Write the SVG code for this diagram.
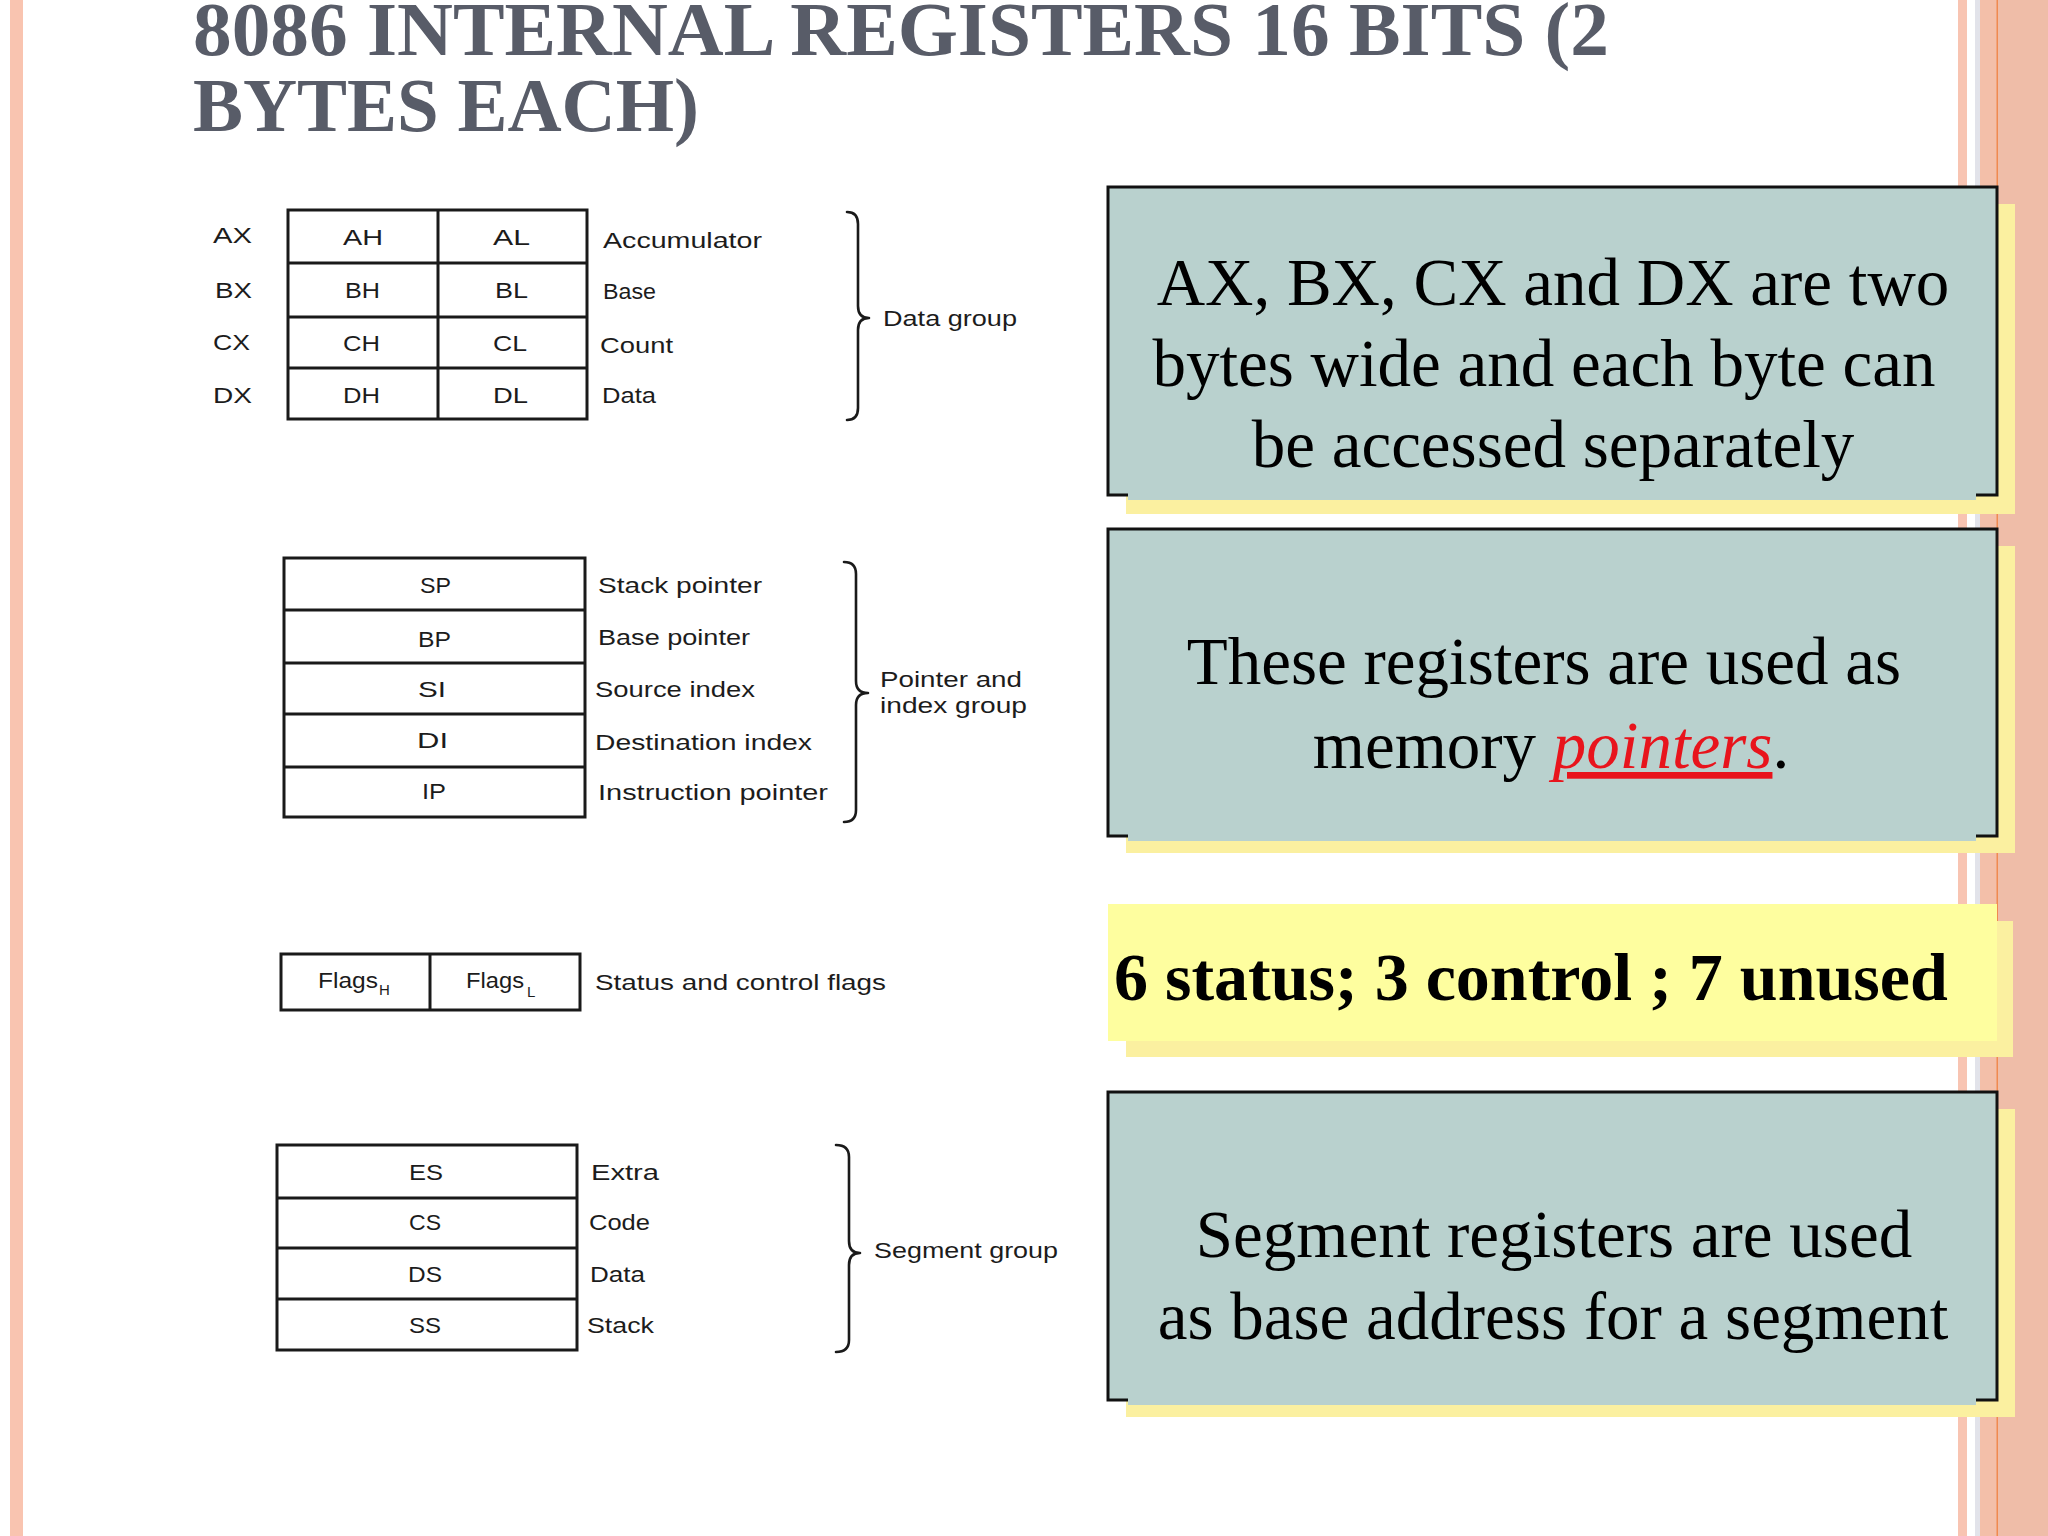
<svg xmlns="http://www.w3.org/2000/svg" width="2048" height="1536" viewBox="0 0 2048 1536">
<style>
.t{font-family:"Liberation Sans",Arial,sans-serif;font-size:22px;fill:#1c1c1c}
.sub{font-family:"Liberation Sans",Arial,sans-serif;font-size:15px;fill:#1c1c1c}
.ln{fill:none;stroke:#1a1a1a;stroke-width:3}
.br{fill:none;stroke:#1a1a1a;stroke-width:2.6;stroke-linecap:round;stroke-linejoin:round}
.title{font-family:"Liberation Serif","Times New Roman",serif;font-weight:bold;font-size:76px;fill:#585c68}
.bt{font-family:"Liberation Serif","Times New Roman",serif;font-size:67px;fill:#000;text-anchor:middle}
.teal{fill:#b9d1ce}
.shadow{fill:#fbf0a0}
.bord{fill:none;stroke:#111;stroke-width:3}
</style>
<rect width="2048" height="1536" fill="#fff"/>
<g id="frame">
<rect x="10" y="0" width="13" height="1536" fill="#f9c4b0"/>
<rect x="1958" y="0" width="9" height="1536" fill="#f8c4b2"/>
<rect x="1975" y="0" width="5" height="1536" fill="#e2e3ea"/>
<rect x="1980" y="0" width="17" height="1536" fill="#f3bfa9"/>
<rect x="1997" y="0" width="51" height="1536" fill="#efbda8"/>
<rect x="1996.5" y="0" width="1.5" height="1536" fill="#f08a50"/>
</g>
<g id="title">
<text class="title" x="193" y="55" textLength="1416" lengthAdjust="spacingAndGlyphs">8086 INTERNAL REGISTERS 16 BITS (2</text>
<text class="title" x="193" y="131" textLength="506" lengthAdjust="spacingAndGlyphs">BYTES EACH)</text>
</g>
<g id="data-group">
<rect class="ln" x="288" y="210" width="299" height="209"/>
<path class="ln" d="M288,263H587M288,317H587M288,368H587M438,210V419"/>
<text class="t" x="213" y="243" textLength="39" lengthAdjust="spacingAndGlyphs">AX</text>
<text class="t" x="215" y="298" textLength="37" lengthAdjust="spacingAndGlyphs">BX</text>
<text class="t" x="213" y="350" textLength="37" lengthAdjust="spacingAndGlyphs">CX</text>
<text class="t" x="213" y="403" textLength="39" lengthAdjust="spacingAndGlyphs">DX</text>
<text class="t" x="343" y="245" textLength="40" lengthAdjust="spacingAndGlyphs">AH</text>
<text class="t" x="493" y="245" textLength="37" lengthAdjust="spacingAndGlyphs">AL</text>
<text class="t" x="345" y="298" textLength="35" lengthAdjust="spacingAndGlyphs">BH</text>
<text class="t" x="495" y="298" textLength="33" lengthAdjust="spacingAndGlyphs">BL</text>
<text class="t" x="343" y="351" textLength="37" lengthAdjust="spacingAndGlyphs">CH</text>
<text class="t" x="493" y="351" textLength="34" lengthAdjust="spacingAndGlyphs">CL</text>
<text class="t" x="343" y="403" textLength="37" lengthAdjust="spacingAndGlyphs">DH</text>
<text class="t" x="493" y="403" textLength="35" lengthAdjust="spacingAndGlyphs">DL</text>
<text class="t" x="603" y="248" textLength="159" lengthAdjust="spacingAndGlyphs">Accumulator</text>
<text class="t" x="603" y="299" textLength="53" lengthAdjust="spacingAndGlyphs">Base</text>
<text class="t" x="600" y="353" textLength="73" lengthAdjust="spacingAndGlyphs">Count</text>
<text class="t" x="602" y="403" textLength="54" lengthAdjust="spacingAndGlyphs">Data</text>
<text class="t" x="883" y="326" textLength="134" lengthAdjust="spacingAndGlyphs">Data group</text>
</g>
<g id="pointer-group">
<rect class="ln" x="284" y="558" width="301" height="259"/>
<path class="ln" d="M284,610H585M284,663H585M284,714H585M284,767H585"/>
<text class="t" x="420" y="593" textLength="31" lengthAdjust="spacingAndGlyphs">SP</text>
<text class="t" x="418" y="647" textLength="33" lengthAdjust="spacingAndGlyphs">BP</text>
<text class="t" x="418" y="697" textLength="28" lengthAdjust="spacingAndGlyphs">SI</text>
<text class="t" x="417" y="748" textLength="31" lengthAdjust="spacingAndGlyphs">DI</text>
<text class="t" x="422" y="799" textLength="24" lengthAdjust="spacingAndGlyphs">IP</text>
<text class="t" x="598" y="593" textLength="164" lengthAdjust="spacingAndGlyphs">Stack pointer</text>
<text class="t" x="598" y="645" textLength="152" lengthAdjust="spacingAndGlyphs">Base pointer</text>
<text class="t" x="595" y="697" textLength="160" lengthAdjust="spacingAndGlyphs">Source index</text>
<text class="t" x="595" y="750" textLength="217" lengthAdjust="spacingAndGlyphs">Destination index</text>
<text class="t" x="598" y="800" textLength="230" lengthAdjust="spacingAndGlyphs">Instruction pointer</text>
<text class="t" x="880" y="687" textLength="142" lengthAdjust="spacingAndGlyphs">Pointer and</text>
<text class="t" x="880" y="713" textLength="147" lengthAdjust="spacingAndGlyphs">index group</text>
</g>
<g id="flags">
<rect class="ln" x="281" y="954" width="299" height="56"/>
<path class="ln" d="M430,954V1010"/>
<text class="t" x="318" y="988" textLength="60" lengthAdjust="spacingAndGlyphs">Flags</text>
<text class="sub" x="379" y="995">H</text>
<text class="t" x="466" y="988" textLength="58" lengthAdjust="spacingAndGlyphs">Flags</text>
<text class="sub" x="527" y="997">L</text>
<text class="t" x="595" y="990" textLength="291" lengthAdjust="spacingAndGlyphs">Status and control flags</text>
</g>
<g id="segment-group">
<rect class="ln" x="277" y="1145" width="300" height="205"/>
<path class="ln" d="M277,1198H577M277,1248H577M277,1299H577"/>
<text class="t" x="409" y="1180" textLength="34" lengthAdjust="spacingAndGlyphs">ES</text>
<text class="t" x="409" y="1230" textLength="32" lengthAdjust="spacingAndGlyphs">CS</text>
<text class="t" x="408" y="1282" textLength="34" lengthAdjust="spacingAndGlyphs">DS</text>
<text class="t" x="409" y="1333" textLength="32" lengthAdjust="spacingAndGlyphs">SS</text>
<text class="t" x="591" y="1180" textLength="68" lengthAdjust="spacingAndGlyphs">Extra</text>
<text class="t" x="589" y="1230" textLength="61" lengthAdjust="spacingAndGlyphs">Code</text>
<text class="t" x="590" y="1282" textLength="55" lengthAdjust="spacingAndGlyphs">Data</text>
<text class="t" x="587" y="1333" textLength="67" lengthAdjust="spacingAndGlyphs">Stack</text>
<text class="t" x="874" y="1258" textLength="184" lengthAdjust="spacingAndGlyphs">Segment group</text>
</g>
<g id="connectors">
<path class="br" d="M847,212Q858,212 858,224L858,306Q858,318 869,318Q858,318 858,330L858,408Q858,420 847,420"/>
<path class="br" d="M844,562Q856,562 856,574L856,681Q856,693 868,693Q856,693 856,705L856,810Q856,822 844,822"/>
<path class="br" d="M836,1145Q849,1145 849,1157L849,1241Q849,1253 860,1253Q849,1253 849,1265L849,1340Q849,1352 836,1352"/>
</g>
<g id="box-data">
<rect class="shadow" x="1126" y="204" width="889" height="310"/>
<rect class="teal" x="1108" y="187" width="889" height="308"/>
<rect class="bord" x="1108" y="187" width="889" height="308"/>
<rect class="teal" x="1128" y="492" width="848" height="8"/>
<text class="bt" x="1553" y="305">AX, BX, CX and DX are two</text>
<text class="bt" x="1544" y="386">bytes wide and each byte can</text>
<text class="bt" x="1553" y="467">be accessed separately</text>
</g>
<g id="box-pointer">
<rect class="shadow" x="1126" y="546" width="889" height="307"/>
<rect class="teal" x="1108" y="529" width="889" height="307"/>
<rect class="bord" x="1108" y="529" width="889" height="307"/>
<rect class="teal" x="1128" y="833" width="848" height="8"/>
<text class="bt" x="1544" y="684">These registers are used as</text>
<text class="bt" x="1551" y="768">memory <tspan fill="#e8141c" font-style="italic" text-decoration="underline">pointers</tspan>.</text>
</g>
<g id="box-flags">
<rect class="shadow" x="1126" y="921" width="887" height="136"/>
<rect x="1108" y="904" width="889" height="137" fill="#fefe9f"/>
<text x="1114" y="1000" font-family="'Liberation Serif','Times New Roman',serif" font-weight="bold" font-size="68" fill="#000">6 status; 3 control ; 7 unused</text>
</g>
<g id="box-segment">
<rect class="shadow" x="1126" y="1109" width="889" height="308"/>
<rect class="teal" x="1108" y="1092" width="889" height="308"/>
<rect class="bord" x="1108" y="1092" width="889" height="308"/>
<rect class="teal" x="1128" y="1397" width="848" height="8"/>
<text class="bt" x="1554" y="1257">Segment registers are used</text>
<text class="bt" x="1553" y="1339">as base address for a segment</text>
</g>
</svg>
